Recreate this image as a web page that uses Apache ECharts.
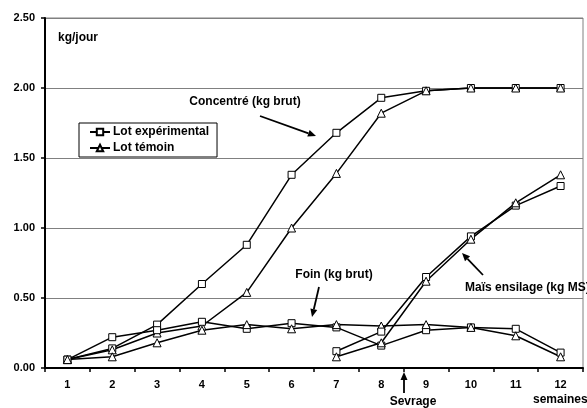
<!DOCTYPE html>
<html><head><meta charset="utf-8">
<script src="https://cdn.jsdelivr.net/npm/echarts@6/dist/echarts.min.js"></script>
<style>html,body{margin:0;padding:0;background:#fff}#c{width:587px;height:408px}</style>
</head><body><div id="c"></div>
<script>
var weeks = ['1','2','3','4','5','6','7','8','9','10','11','12'];
var yTicks = [0, 0.5, 1, 1.5, 2, 2.5];
var concentreExp = [0.06, 0.14, 0.31, 0.60, 0.88, 1.38, 1.68, 1.93, 1.98, 2.00, 2.00, 2.00];
var concentreTem = [0.06, 0.13, 0.25, 0.30, 0.54, 1.00, 1.39, 1.82, 1.98, 2.00, 2.00, 2.00];
var foinExp = [0.06, 0.22, 0.27, 0.33, 0.28, 0.32, 0.29, 0.16, 0.27, 0.29, 0.28, 0.11];
var foinTem = [0.06, 0.08, 0.18, 0.27, 0.31, 0.28, 0.31, 0.30, 0.31, 0.29, 0.23, 0.08];
var maisExp = [null, null, null, null, null, null, 0.12, 0.26, 0.65, 0.94, 1.16, 1.30];
var maisTem = [null, null, null, null, null, null, 0.08, 0.18, 0.62, 0.92, 1.18, 1.38];

var FONT = 'Liberation Sans, Arial, sans-serif';
var chart = echarts.init(document.getElementById('c'));

function mk(name, data, sym) {
  return {
    name: name, type: 'line', data: data, symbol: sym,
    symbolSize: sym === 'rect' ? 7 : 8, showSymbol: true, connectNulls: false,
    lineStyle: {color: '#000', width: 1.5},
    itemStyle: {color: '#fff', borderColor: '#000', borderWidth: 1},
    emphasis: {disabled: true}, animation: false, z: 3
  };
}
var E = 'Lot expérimental', T = 'Lot témoin';

function arrow(x1, y1, x2, y2) {
  var dx = x2 - x1, dy = y2 - y1, L = Math.sqrt(dx*dx + dy*dy);
  var ux = dx / L, uy = dy / L, h = 8, w = 3.5;
  var bx = x2 - ux*h, by = y2 - uy*h;
  return [
    {type: 'line', shape: {x1: x1, y1: y1, x2: bx, y2: by}, style: {stroke: '#000', lineWidth: 1.8}, z: 10},
    {type: 'polygon', shape: {points: [[x2, y2], [bx - uy*w, by + ux*w], [bx + uy*w, by - ux*w]]}, style: {fill: '#000'}, z: 10}
  ];
}
function txt(x, y, s, align) {
  return {type: 'text', x: x, y: y, z: 10, style: {text: s, font: 'bold 12px ' + FONT, fill: '#000', textAlign: align || 'left', textVerticalAlign: 'middle'}};
}

var graphics = [
  txt(58, 38, 'kg/jour'),
  txt(245, 102, 'Concentré (kg brut)', 'center'),
  txt(334, 275, 'Foin (kg brut)', 'center'),
  txt(465, 288, 'Maïs ensilage (kg MS)'),
  txt(413, 402, 'Sevrage', 'center'),
  txt(533, 400, 'semaines')
].concat(arrow(260, 116, 316, 136))
 .concat(arrow(319, 287, 312, 317))
 .concat(arrow(483, 275, 462, 253))
 .concat(arrow(404, 393, 404, 372));

chart.setOption({
  animation: false,
  grid: {left: 45, top: 18, right: 4, bottom: 40, show: true, borderColor: '#808080', borderWidth: 1},
  legend: {
    data: [E, T], orient: 'vertical', left: 79, top: 123,
    backgroundColor: '#fff', borderColor: '#000', borderWidth: 1,
    padding: [3, 8, 3, 10], itemGap: 4, itemWidth: 20, itemHeight: 8,
    textStyle: {fontFamily: FONT, fontWeight: 'bold', fontSize: 12, color: '#000', padding: [0, 0, 0, -2]}
  },
  xAxis: {
    type: 'category', data: weeks, boundaryGap: true,
    axisLine: {lineStyle: {color: '#000', width: 2}},
    axisTick: {show: true, length: 4, lineStyle: {color: '#000', width: 1.5}},
    axisLabel: {fontFamily: FONT, fontWeight: 'bold', fontSize: 11, color: '#000', margin: 11},
    splitLine: {show: false}
  },
  yAxis: {
    type: 'value', min: yTicks[0], max: yTicks[yTicks.length - 1], interval: yTicks[1] - yTicks[0],
    axisLine: {show: true, lineStyle: {color: '#000', width: 2}},
    axisTick: {show: true, length: 4, lineStyle: {color: '#000', width: 1.5}},
    axisLabel: {fontFamily: FONT, fontWeight: 'bold', fontSize: 11, color: '#000', margin: 10, formatter: function (v) { return v.toFixed(2); }},
    splitLine: {show: true, lineStyle: {color: '#808080', width: 1}}
  },
  series: [
    mk(E, concentreExp, 'rect'), mk(T, concentreTem, 'triangle'),
    mk(E, foinExp, 'rect'), mk(T, foinTem, 'triangle'),
    mk(E, maisExp, 'rect'), mk(T, maisTem, 'triangle')
  ],
  graphic: graphics
});
</script></body></html>
